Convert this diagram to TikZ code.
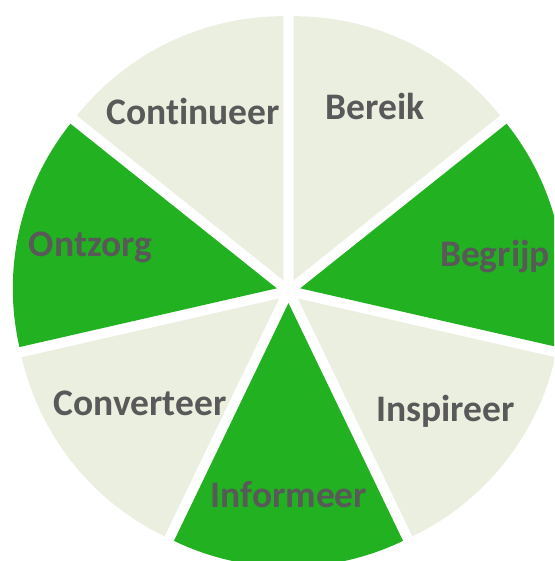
\documentclass[tikz,border=0pt]{standalone}
\usepackage{fontspec}
\setmainfont{Carlito}[Ligatures={NoCommon}]
\usetikzlibrary{calc}
\definecolor{grn}{RGB}{33,177,33}
\definecolor{lite}{RGB}{235,239,223}
\definecolor{txt}{RGB}{89,89,89}
\begin{document}
\begin{tikzpicture}[x=1pt,y=1pt]
\tikzset{lbl/.style={font=\bfseries\fontsize{37.5}{44}\selectfont, text=txt, anchor=base, inner sep=0pt}}
\useasboundingbox (0,0) rectangle (554,-561);
\clip (0,0) rectangle (554,-561);
\coordinate (C) at (288.5,-291);
\foreach \i/\col in {0/lite,1/grn,2/lite,3/grn,4/lite,5/grn,6/lite}{
  \pgfmathsetmacro\aone{90-\i*360/7}
  \pgfmathsetmacro\atwo{\aone-360/7}
  \pgfmathsetmacro\amid{\aone-180/7}
  \fill[\col] ($(C)+(\amid:12)$) -- ++(\aone:264) arc[start angle=\aone, end angle=\atwo, radius=264] -- cycle;
}
\node[lbl] (bereik) at (375,-120) {Bereik};
\node[lbl] (begrijp) at (495,-266.5) {Begrijp};
\node[lbl] (inspireer) at (445.5,-421.5) {Inspireer};
\node[lbl] (informeer) at (289,-507) {Informeer};
\node[lbl] (converteer) at (140,-415) {Converteer};
\node[lbl] (ontzorg) at (90.5,-256) {Ontzorg};
\node[lbl] (continueer) at (193,-125) {Continueer};
\end{tikzpicture}
\end{document}
